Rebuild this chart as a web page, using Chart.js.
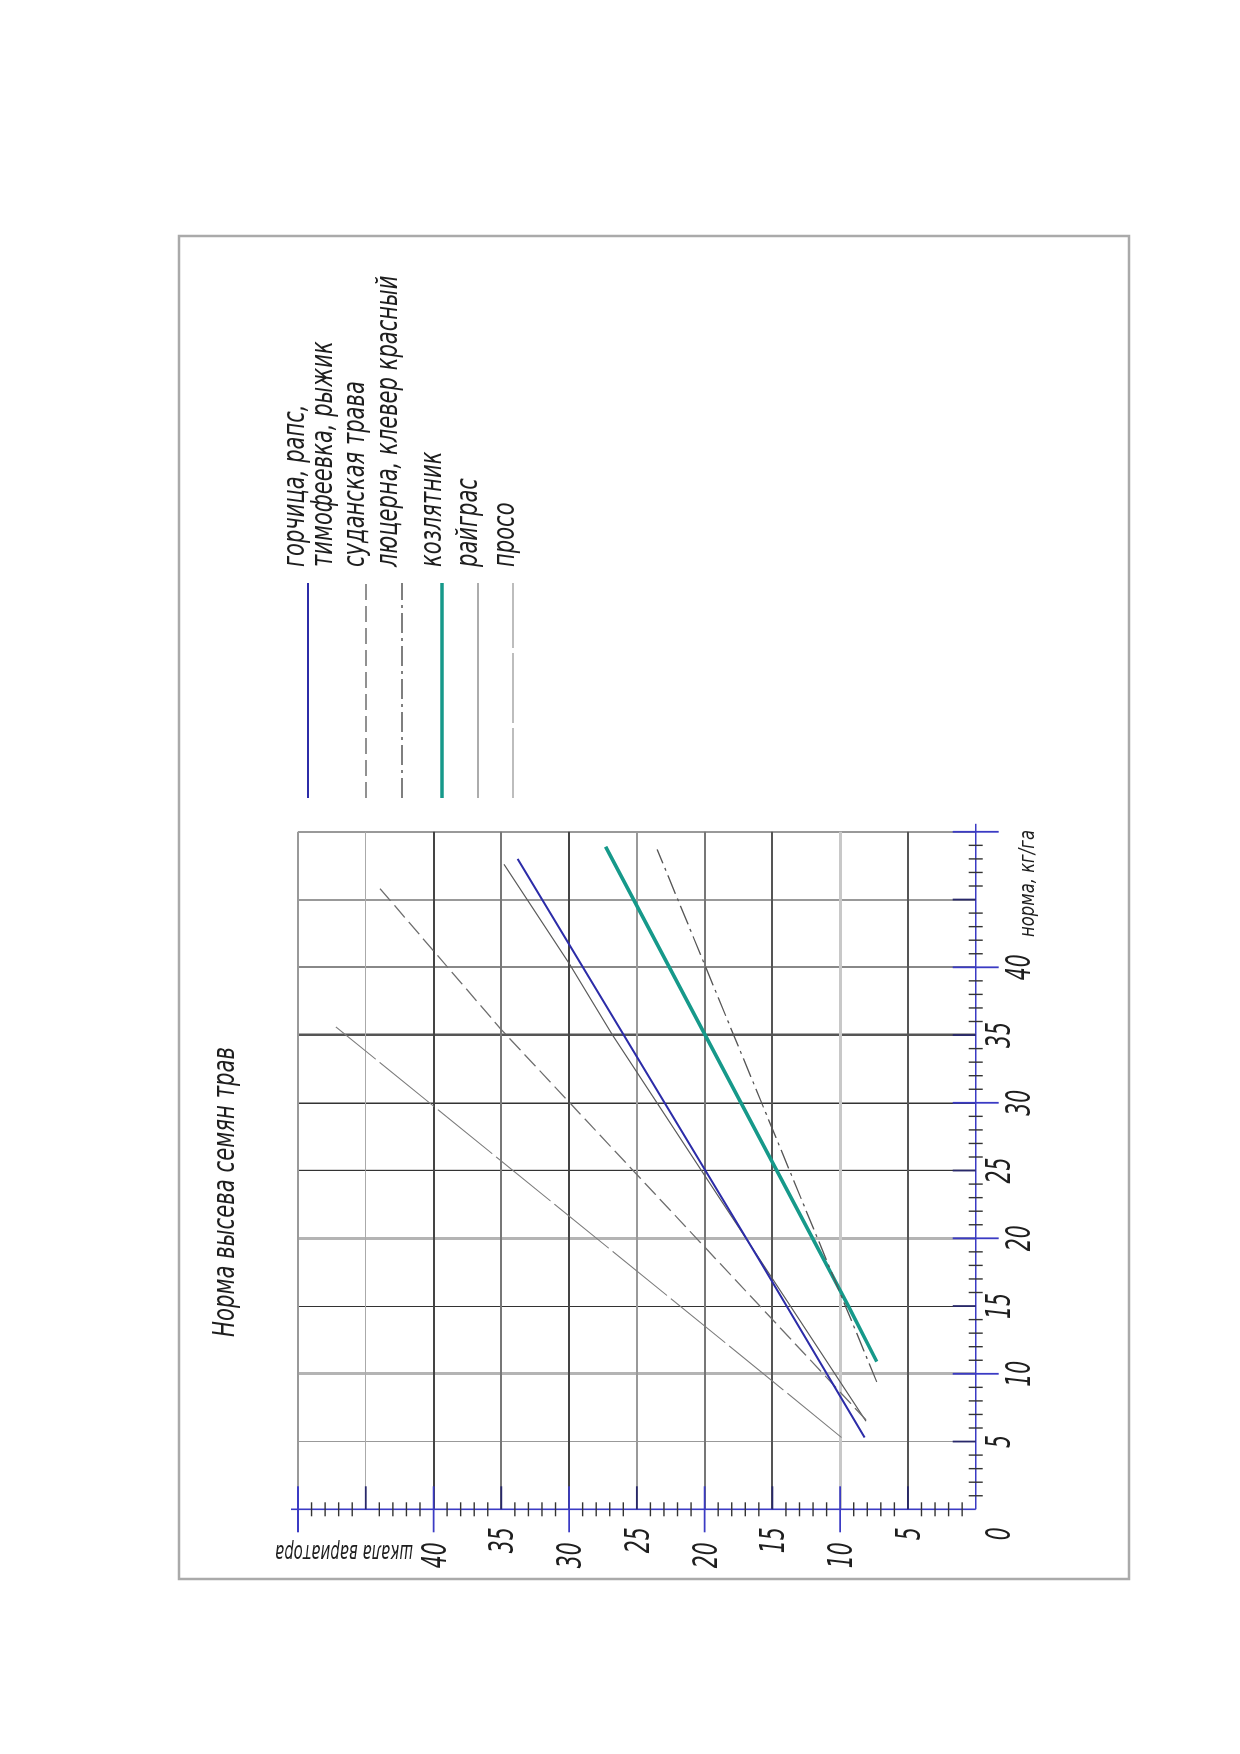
<!DOCTYPE html>
<html>
<head>
<meta charset="utf-8">
<title>Норма высева семян трав</title>
<script src="https://cdn.jsdelivr.net/npm/chart.js@4.4.1/dist/chart.umd.min.js"></script>
<style>
  html, body { margin: 0; padding: 0; background: #fff; }
  body { width: 1240px; height: 1754px; overflow: hidden; position: relative; }
  /* the drawing lies on its side on the sheet */
  #sheet { position: absolute; left: 0; top: 0; width: 1754px; height: 1240px;
           transform-origin: 0 0; transform: translateY(1754px) rotate(-90deg); }
</style>
</head>
<body>
<div id="sheet"><canvas id="chart" width="1754" height="1240"></canvas></div>
<script>
// x - норма, кг/га ; y - деление шкалы вариатора
const seriesNames = ['горчица, рапс,\nтимофеевка, рыжик', 'суданская трава', 'люцерна, клевер красный', 'козлятник', 'райграс', 'просо'];
const gorchicaNorm = [5.3, 18.3, 48.0];
const gorchicaScale = [8.2, 15.9, 33.8];
const sudanNorm = [6.6, 10.0, 35.4, 46.1];
const sudanScale = [8.1, 11.25, 35.0, 44.2];
const lucerneNorm = [9.4, 40.2, 48.7];
const lucerneScale = [7.3, 20.0, 23.5];
const kozlyatnikNorm = [10.9, 15.0, 48.9];
const kozlyatnikScale = [7.3, 9.4, 27.3];
const raigrasNorm = [6.5, 35.0, 40.3, 47.6];
const raigrasScale = [8.1, 26.8, 30.0, 34.8];
const prosoNorm = [5.3, 10.2, 35.6];
const prosoScale = [9.9, 15.9, 47.2];
const normTicks = [5, 10, 15, 20, 25, 30, 35, 40];
const scaleTicks = [5, 10, 15, 20, 25, 30, 35, 40];

const looks = [
  { color: '#2c2ca8', width: 2, dash: [] },
  { color: '#6e6e6e', width: 1.3, dash: [16, 6] },
  { color: '#555555', width: 1.3, dash: [20, 5, 3, 5] },
  { color: '#16998a', width: 3.6, dash: [] },
  { color: '#5a5a5a', width: 1.2, dash: [] },
  { color: '#7d7d7d', width: 1.1, dash: [70, 5] }
];

// grid line weights differ from line to line on the drawing
const xGridLook = { 5: ['#999', 1], 10: ['#b4b4b4', 3], 15: ['#333', 1], 20: ['#b4b4b4', 3], 25: ['#333', 1.2],
  30: ['#333', 1.5], 35: ['#555', 2.5], 40: ['#888', 2], 45: ['#999', 2], 50: ['#999', 2] };
const yGridLook = { 5: ['#555', 2], 10: ['#c8c8c8', 3], 15: ['#555', 2], 20: ['#777', 2], 25: ['#999', 2],
  30: ['#444', 2], 35: ['#777', 2], 40: ['#444', 2], 45: ['#aaa', 1], 50: ['#999', 2] };
const none = ['rgba(0,0,0,0)', 0];

const pairs = [[gorchicaNorm, gorchicaScale], [sudanNorm, sudanScale], [lucerneNorm, lucerneScale],
  [kozlyatnikNorm, kozlyatnikScale], [raigrasNorm, raigrasScale], [prosoNorm, prosoScale]];

const datasets = pairs.map(([xs, ys], i) => ({
  label: seriesNames[i],
  data: xs.map((x, k) => ({ x: x, y: ys[k] })),
  borderColor: looks[i].color,
  borderWidth: looks[i].width,
  borderDash: looks[i].dash,
  pointRadius: 0,
  tension: 0,
  fill: false
}));

const FONT = '"DejaVu Sans", "Liberation Sans", sans-serif';
const BLUE = '#3b3bc4';

function say(ctx, text, x, y, o) {
  ctx.save();
  ctx.font = 'italic ' + o.size + 'px ' + FONT;
  const sq = o.fit ? o.fit / ctx.measureText(text).width : (o.sq || 1);
  ctx.translate(x, y);
  if (o.angle) ctx.rotate(o.angle);
  ctx.scale(sq, 1);
  ctx.textAlign = o.align || 'left';
  ctx.textBaseline = 'alphabetic';
  ctx.fillStyle = '#1e1e1e';
  ctx.fillText(text, 0, 0);
  ctx.restore();
}

function seg(ctx, x1, y1, x2, y2, color, w) {
  ctx.beginPath();
  ctx.strokeStyle = color;
  ctx.lineWidth = w;
  ctx.moveTo(x1, y1);
  ctx.lineTo(x2, y2);
  ctx.stroke();
}

const legendRows = [
  { line: 308, base: [303.5, 331.5] },
  { line: 366, base: [363.5] },
  { line: 402, base: [396.5] },
  { line: 442, base: [440.5] },
  { line: 478, base: [476.5] },
  { line: 513, base: [513.5] }
];

const sheetPlugin = {
  id: 'sheet',
  afterDraw(chart) {
    const ctx = chart.ctx;
    const a = chart.chartArea;
    const xs = chart.scales.x, ys = chart.scales.y;
    ctx.save();

    // frame
    ctx.strokeStyle = '#aaa';
    ctx.lineWidth = 2.5;
    ctx.strokeRect(175, 179, 1343, 950);

    // axes
    seg(ctx, a.left, a.bottom, xs.getPixelForValue(50) + 8, a.bottom, BLUE, 1.6);
    seg(ctx, a.left, a.bottom, a.left, ys.getPixelForValue(50) - 7, BLUE, 1.6);

    xs.ticks.forEach(t => {
      const v = t.value;
      if (v === 0) return;
      const p = xs.getPixelForValue(v);
      if (v % 10 === 0) seg(ctx, p, a.bottom - 23, p, a.bottom + 23, BLUE, 1.8);
      else if (v % 5 === 0) seg(ctx, p, a.bottom - 23, p, a.bottom, '#28286a', 1.8);
      else seg(ctx, p, a.bottom - 7, p, a.bottom + 7, '#333', 1.4);
      if (t.label) say(ctx, t.label, p, a.bottom + (v % 10 === 0 ? 54 : 34), { size: 34, sq: 0.6, align: 'center' });
    });
    ys.ticks.forEach(t => {
      const v = t.value;
      if (v === 0) return;
      const p = ys.getPixelForValue(v);
      if (v % 10 === 0) seg(ctx, a.left - 23, p, a.left + 23, p, BLUE, 1.8);
      else if (v % 5 === 0) seg(ctx, a.left, p, a.left + 23, p, '#28286a', 1.8);
      else seg(ctx, a.left - 7, p, a.left + 7, p, '#333', 1.4);
      if (t.label) say(ctx, t.label, a.left - (v % 10 === 0 ? 33 : 18), p + 12, { size: 34, sq: 0.6, align: 'right' });
    });
    say(ctx, '0', a.left - 18, a.bottom + 34, { size: 34, sq: 0.6, align: 'right' });

    // axis names
    say(ctx, 'шкала вариатора', 209, 413, { size: 24, fit: 138, angle: -Math.PI / 2 });
    say(ctx, 'норма, кг/га', 924, 1034, { size: 22, fit: 107, align: 'right' });

    // title
    say(ctx, 'Норма высева семян трав', 417, 234, { size: 31, fit: 290 });

    // legend
    chart.data.datasets.forEach((ds, i) => {
      const row = legendRows[i];
      ctx.save();
      ctx.setLineDash(ds.borderDash || []);
      seg(ctx, 956, row.line, 1171, row.line, ds.borderColor, ds.borderWidth);
      ctx.restore();
      ds.label.split('\n').forEach((s, k) => say(ctx, s, 1187, row.base[k], { size: 31, sq: 0.68 }));
    });

    ctx.restore();
  }
};

new Chart(document.getElementById('chart'), {
  type: 'line',
  data: { datasets: datasets },
  plugins: [sheetPlugin],
  options: {
    responsive: false,
    animation: false,
    layout: { padding: { left: 244.7, right: 831.8, top: 298, bottom: 264.3 } },
    plugins: { legend: { display: false }, title: { display: false }, tooltip: { enabled: false } },
    scales: {
      x: {
        type: 'linear', min: 0, max: 50,
        ticks: { stepSize: 1, autoSkip: false, display: false,
          callback: v => normTicks.includes(v) ? String(v) : '' },
        grid: { drawTicks: false,
          color: c => (xGridLook[c.tick.value] || none)[0],
          lineWidth: c => (xGridLook[c.tick.value] || none)[1] },
        border: { display: false },
        afterFit: s => { s.height = 0; }
      },
      y: {
        type: 'linear', min: 0, max: 50,
        ticks: { stepSize: 1, autoSkip: false, display: false,
          callback: v => scaleTicks.includes(v) ? String(v) : '' },
        grid: { drawTicks: false,
          color: c => (yGridLook[c.tick.value] || none)[0],
          lineWidth: c => (yGridLook[c.tick.value] || none)[1] },
        border: { display: false },
        afterFit: s => { s.width = 0; }
      }
    }
  }
});
</script>
</body>
</html>
